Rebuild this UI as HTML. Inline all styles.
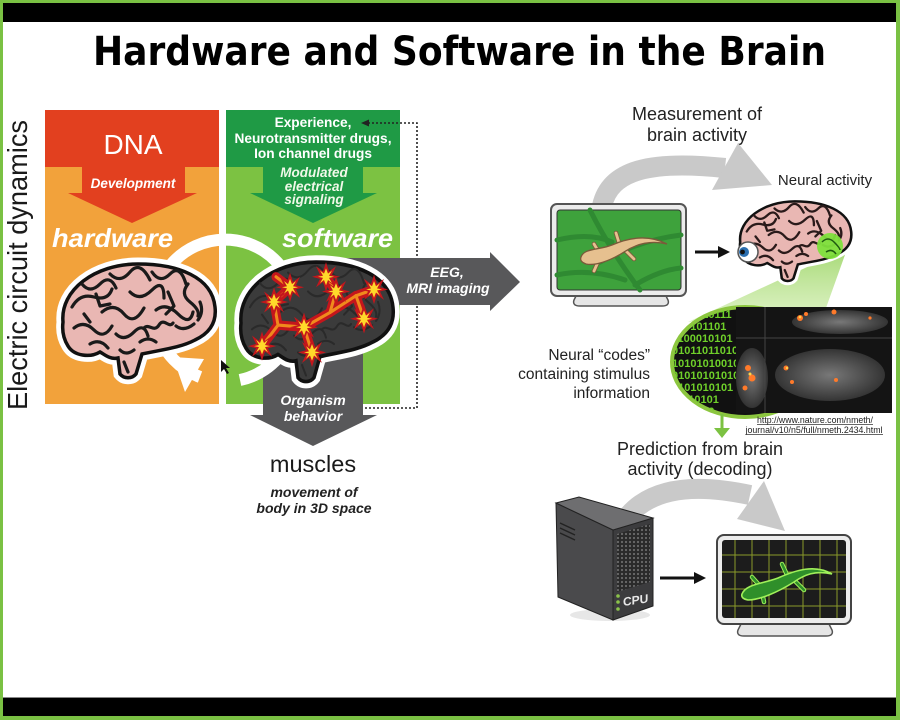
<!DOCTYPE html>
<html><head><meta charset="utf-8">
<style>
html,body{margin:0;padding:0;background:#fff;}
svg{display:block;}
</style></head>
<body>
<svg width="900" height="720" viewBox="0 0 900 720" xmlns="http://www.w3.org/2000/svg" xmlns:xlink="http://www.w3.org/1999/xlink" font-family="'Liberation Sans', sans-serif">
<defs>
  <path id="bs" d="M 3 60 C 0 28 35 2 78 2 C 118 2 152 15 155 45 C 157 62 148 72 135 78 C 120 86 100 88 82 92 L 76 112 C 72 117 64 117 60 112 L 58 96 C 50 98 44 92 40 90 C 30 96 14 94 8 84 C 3 76 2 68 3 60 Z"/>
  <g id="folds" fill="none" stroke-linecap="round" stroke-linejoin="round">
    <path d="M12 45 q8 -14 22 -10 t18 -8"/>
    <path d="M22 22 q8 10 18 0 t16 4"/>
    <path d="M50 12 q10 10 20 -2 t20 8"/>
    <path d="M92 10 q8 12 18 2 t16 10"/>
    <path d="M128 22 q-8 10 2 18 t8 14"/>
    <path d="M14 66 q10 -8 20 2 t18 -4"/>
    <path d="M42 50 q12 -10 22 2 t20 -6"/>
    <path d="M70 30 q10 10 22 -2 t12 8"/>
    <path d="M96 48 q10 -8 22 4 t15 -2"/>
    <path d="M30 82 q10 -6 18 4"/>
    <path d="M56 72 q8 8 18 -2 t14 4"/>
    <path d="M84 66 c5 -5 10 5 15 -3 s10 4 14 -2"/>
    <path d="M60 88 q6 6 14 0"/>
    <path d="M108 30 l6 14 l-8 8"/>
    <path d="M36 32 l4 12 l10 -2"/>
    <path d="M116 64 q8 6 18 -2"/>
    <path d="M140 40 q4 10 -2 18"/>
    <path d="M64 100 l4 10"/>
    <path d="M24 52 l6 8"/>
    <path d="M80 80 q8 -6 16 0"/>
  </g>
  <polygon id="star" points="0,-14 3,-5 10,-10 6,-2 14,0 6,2 10,10 3,5 0,14 -3,5 -10,10 -6,2 -14,0 -6,-2 -10,-10 -3,-5"/>
  <polygon id="star2" points="0,-8 2,-3 6,-6 3,-1 8,0 3,1 6,6 2,3 0,8 -2,3 -6,6 -3,1 -8,0 -3,-1 -6,-6 -2,-3"/>
  <pattern id="mesh" width="4" height="4" patternUnits="userSpaceOnUse">
    <rect width="4" height="4" fill="#2a2a2a"/>
    <circle cx="2" cy="2" r="1.1" fill="#6a6a6a"/>
  </pattern>
  <clipPath id="bubbleClip"><ellipse cx="745" cy="362" rx="72" ry="54"/></clipPath>
  <linearGradient id="cone" x1="0" y1="0" x2="0" y2="1">
    <stop offset="0" stop-color="#9fd66a" stop-opacity="0.9"/>
    <stop offset="1" stop-color="#c8eaa0" stop-opacity="0.6"/>
  </linearGradient>
  <radialGradient id="fish" cx="0.5" cy="0.5" r="0.5">
    <stop offset="0" stop-color="#8a8a8a"/>
    <stop offset="1" stop-color="#3a3a3a"/>
  </radialGradient>
</defs>

<!-- frame -->
<rect x="0" y="0" width="900" height="720" fill="#7ac143"/>
<rect x="3" y="3" width="893" height="713" fill="#fff"/>
<rect x="3" y="3" width="893" height="19" fill="#000"/>
<rect x="3" y="697" width="893" height="1" fill="#888"/>
<rect x="3" y="698" width="893" height="18" fill="#000"/>

<!-- title -->
<text x="93" y="65" font-family="'DejaVu Sans', sans-serif" font-weight="bold" font-size="40" textLength="733" lengthAdjust="spacingAndGlyphs" fill="#000">Hardware and Software in the Brain</text>

<!-- vertical label -->
<text transform="translate(27,410) rotate(-90)" font-size="28" fill="#1a1a1a" textLength="290" lengthAdjust="spacingAndGlyphs">Electric circuit dynamics</text>

<!-- orange panel -->
<rect x="45" y="110" width="174" height="294" fill="#f2a23b"/>
<rect x="45" y="110" width="174" height="57" fill="#e2401f"/>
<polygon points="82,166 185,166 185,193 197,193 132,223 68,193 82,193" fill="#e2401f"/>
<text x="133" y="154" font-size="28" fill="#fff" text-anchor="middle">DNA</text>
<text x="133" y="188" font-size="13.5" font-weight="bold" font-style="italic" fill="#fff" text-anchor="middle">Development</text>
<text x="52" y="247" font-size="26" font-weight="bold" font-style="italic" fill="#fff" textLength="121" lengthAdjust="spacingAndGlyphs">hardware</text>

<!-- green panel -->
<rect x="226" y="110" width="174" height="294" fill="#7cc242"/>
<rect x="226" y="110" width="174" height="57" fill="#1f9a45"/>
<polygon points="263,166 363,166 363,193 377,193 313,223 250,193 263,193" fill="#1f9a45"/>
<g font-size="13.7" font-weight="bold" fill="#fff" text-anchor="middle">
  <text x="313" y="127">Experience,</text>
  <text x="313" y="143" textLength="157" lengthAdjust="spacingAndGlyphs">Neurotransmitter drugs,</text>
  <text x="313" y="158">Ion channel drugs</text>
</g>
<g font-size="13.5" font-weight="bold" font-style="italic" fill="#f0f8e8" text-anchor="middle">
  <text x="314" y="177">Modulated</text>
  <text x="314" y="191">electrical</text>
  <text x="314" y="204">signaling</text>
</g>
<text x="282" y="247" font-size="26" font-weight="bold" font-style="italic" fill="#fff" textLength="111" lengthAdjust="spacingAndGlyphs">software</text>

<!-- dotted feedback line -->
<polyline points="368,123 417,123 417,408 350,408" fill="none" stroke="#222" stroke-width="1.6" stroke-dasharray="2,2"/>
<polygon points="361,123 369,119.5 369,126.5" fill="#222"/>

<!-- gray arrows -->
<polygon points="340,258 490,258 490,252 520,282 490,311 490,305 340,305" fill="#58585a"/>
<polygon points="263,330 363,330 363,415 377,415 313,446 250,415 263,415" fill="#58585a"/>

<!-- white ring -->
<path d="M 200 377 A 71 71 0 1 1 240 380" fill="none" stroke="#fff" stroke-width="12"/>
<polygon points="173,357 204,359 185,392" fill="#fff"/>

<!-- hardware brain -->
<g transform="translate(60,262)">
  <use xlink:href="#bs" fill="none" stroke="#fff" stroke-width="13"/>
  <use xlink:href="#bs" fill="#e9b7b3" stroke="#111" stroke-width="3.5"/>
  <use xlink:href="#folds" stroke="#1a1a1a" stroke-width="3.2"/>
</g>

<!-- software brain -->
<g transform="translate(238,260) scale(1,1.05)">
  <use xlink:href="#bs" fill="none" stroke="#fff" stroke-width="13"/>
  <use xlink:href="#bs" fill="#3b3b3b" stroke="#111" stroke-width="3.5"/>
  <use xlink:href="#folds" stroke="#2a2a2a" stroke-width="2"/>
  <g fill="none" stroke="#c4161c" stroke-width="9" stroke-linecap="round" stroke-linejoin="round">
    <path d="M24 82 L40 62 L36 40 L52 26"/>
    <path d="M40 62 L66 64 L92 50 L118 34"/>
    <path d="M92 50 L98 30 L88 16"/>
    <path d="M66 64 L74 88"/>
    <path d="M118 34 L136 28"/>
    <path d="M52 26 L38 16"/>
    <path d="M118 34 L126 56"/>
  </g>
  <g fill="none" stroke="#f08a1d" stroke-width="3" stroke-linecap="round" stroke-linejoin="round">
    <path d="M24 82 L40 62 L36 40 L52 26"/>
    <path d="M40 62 L66 64 L92 50 L118 34"/>
    <path d="M92 50 L98 30 L88 16"/>
    <path d="M66 64 L74 88"/>
    <path d="M118 34 L136 28"/>
    <path d="M52 26 L38 16"/>
    <path d="M118 34 L126 56"/>
  </g>
  <g fill="#c4161c">
    <use xlink:href="#star" x="36" y="40"/><use xlink:href="#star" x="52" y="26"/>
    <use xlink:href="#star" x="98" y="30"/><use xlink:href="#star" x="88" y="16"/>
    <use xlink:href="#star" x="136" y="28"/><use xlink:href="#star" x="24" y="82"/>
    <use xlink:href="#star" x="74" y="88"/><use xlink:href="#star" x="126" y="56"/>
    <use xlink:href="#star" x="66" y="64"/>
  </g>
  <g fill="#ffd92a">
    <use xlink:href="#star2" x="36" y="40"/><use xlink:href="#star2" x="52" y="26"/>
    <use xlink:href="#star2" x="98" y="30"/><use xlink:href="#star2" x="88" y="16"/>
    <use xlink:href="#star2" x="136" y="28"/><use xlink:href="#star2" x="24" y="82"/>
    <use xlink:href="#star2" x="74" y="88"/><use xlink:href="#star2" x="126" y="56"/>
    <use xlink:href="#star2" x="66" y="64"/>
  </g>
</g>

<!-- arrow labels -->
<g font-size="14" font-weight="bold" font-style="italic" fill="#fff" text-anchor="middle">
  <text x="447" y="277">EEG,</text>
  <text x="448" y="293">MRI imaging</text>
  <text x="313" y="405">Organism</text>
  <text x="313" y="421">behavior</text>
</g>

<!-- cursor -->
<polygon points="221,360 221,372 224,369 227,374 229,373 226,368 230,368" fill="#111"/>

<!-- muscles -->
<text x="313" y="472" font-size="23.5" fill="#1a1a1a" text-anchor="middle">muscles</text>
<g font-size="14" font-weight="bold" font-style="italic" fill="#222" text-anchor="middle">
  <text x="314" y="497">movement of</text>
  <text x="314" y="513">body in 3D space</text>
</g>

<!-- right top -->
<g font-size="18" fill="#222" text-anchor="middle">
  <text x="697" y="120">Measurement of</text>
  <text x="697" y="141">brain activity</text>
</g>
<path d="M 602 206 C 610 170, 650 160, 725 168" fill="none" stroke="#c9c9c9" stroke-width="20"/>
<polygon points="738,143 772,185 712,190" fill="#c9c9c9"/>
<text x="825" y="185" font-size="15" fill="#222" text-anchor="middle">Neural activity</text>

<!-- monitor 1 -->
<path d="M578 292 L664 292 L668 300 Q670 306 662 306 L580 306 Q572 306 574 300 Z" fill="#e6e6e6" stroke="#555" stroke-width="1.5"/>
<rect x="551" y="204" width="135" height="92" rx="6" fill="#ececec" stroke="#555" stroke-width="2"/>
<rect x="557" y="210" width="124" height="80" rx="3" fill="#3ea23c" stroke="#333" stroke-width="1"/>
<g fill="none" stroke="#2f8a32" stroke-width="5" stroke-linecap="round">
  <path d="M590 210 Q610 250 640 290"/>
  <path d="M557 240 Q590 232 612 242"/>
  <path d="M600 262 Q640 240 681 235"/>
  <path d="M557 275 Q590 268 625 280"/>
  <path d="M635 285 Q660 270 681 268"/>
</g>
<g stroke="#7a5a3a" stroke-width="4.5" stroke-linecap="round">
  <line x1="600" y1="254" x2="594" y2="244"/><line x1="598" y1="262" x2="594" y2="271"/>
  <line x1="620" y1="246" x2="616" y2="233"/><line x1="626" y1="251" x2="634" y2="259"/>
</g>
<g stroke="#e6c08f" stroke-width="2.8" stroke-linecap="round">
  <line x1="600" y1="254" x2="594" y2="244"/><line x1="598" y1="262" x2="594" y2="271"/>
  <line x1="620" y1="246" x2="616" y2="233"/><line x1="626" y1="251" x2="634" y2="259"/>
</g>
<path d="M581 257 C584 248, 600 250, 612 245 C628 238, 648 234, 667 244 C650 240, 636 244, 624 252 C610 261, 595 266, 586 264 C581 262, 580 260, 581 257 Z" fill="#e6c08f" stroke="#7a5a3a" stroke-width="1.3"/>

<!-- black arrow 1 -->
<line x1="695" y1="252" x2="720" y2="252" stroke="#111" stroke-width="3"/>
<polygon points="730,252 718,246 718,258" fill="#111"/>

<!-- cone -->
<polygon points="818,262 846,252 826,308 688,322" fill="url(#cone)"/>

<!-- small brain -->
<rect x="752" y="246" width="22" height="10" fill="#fff" stroke="#777" stroke-width="1"/>
<g transform="translate(738,200) scale(0.73,0.7)">
  <use xlink:href="#bs" fill="none" stroke="#fff" stroke-width="12"/>
  <use xlink:href="#bs" fill="#e9b7b3" stroke="#111" stroke-width="3.5"/>
  <use xlink:href="#folds" stroke="#2a1a1a" stroke-width="3.2"/>
</g>
<circle cx="830" cy="246" r="13" fill="#7ee03c" opacity="0.95"/>
<g fill="none" stroke="#1e5a10" stroke-width="1.5"><path d="M822 242 q6 -6 12 0 t6 8"/><path d="M826 252 q6 -4 10 2"/></g>
<circle cx="748" cy="252" r="10" fill="#fff" stroke="#555" stroke-width="1.5"/>
<circle cx="744" cy="252" r="5" fill="#2b6fb0"/>
<circle cx="742.5" cy="252" r="2.4" fill="#111"/>

<!-- binary bubble -->
<ellipse cx="745" cy="362" rx="73" ry="55" fill="#111" stroke="#8cc63f" stroke-width="4"/>
<g clip-path="url(#bubbleClip)" font-size="11" font-weight="bold" fill="#6fd02a">
  <text x="690" y="318">1010111</text>
  <text x="678" y="330">10101101</text>
  <text x="672" y="342">1100010101</text>
  <text x="672" y="354">01011011010</text>
  <text x="672" y="367">10101010010</text>
  <text x="672" y="379">01010101010</text>
  <text x="672" y="391">0101010101</text>
  <text x="676" y="403">1010101</text>
  <text x="690" y="415">0010</text>
</g>

<!-- zebrafish image -->
<rect x="736" y="307" width="156" height="106" fill="#141414"/>
<line x1="765" y1="307" x2="765" y2="413" stroke="#444" stroke-width="1"/>
<line x1="736" y1="338" x2="892" y2="338" stroke="#444" stroke-width="1"/>
<ellipse cx="840" cy="322" rx="48" ry="12" fill="url(#fish)" opacity="0.85"/>
<ellipse cx="830" cy="375" rx="55" ry="26" fill="url(#fish)" opacity="0.85"/>
<ellipse cx="752" cy="378" rx="16" ry="30" fill="url(#fish)" opacity="0.8"/>
<g fill="#ff7a2a">
  <circle cx="800" cy="318" r="3"/><circle cx="806" cy="314" r="2"/><circle cx="834" cy="312" r="2.5"/>
  <circle cx="748" cy="368" r="3"/><circle cx="752" cy="378" r="3.5"/><circle cx="745" cy="388" r="2.5"/>
  <circle cx="786" cy="368" r="2.5"/><circle cx="792" cy="382" r="2"/><circle cx="836" cy="380" r="2"/>
  <circle cx="870" cy="318" r="1.6"/>
</g>
<g fill="#ffd24a"><circle cx="750" cy="374" r="1.5"/><circle cx="800" cy="317" r="1.3"/><circle cx="787" cy="368" r="1.2"/></g>

<!-- link -->
<g font-size="9.5" fill="#222" text-anchor="middle">
  <text x="815" y="423" textLength="116" lengthAdjust="spacingAndGlyphs">http://www.nature.com/nmeth/</text>
  <text x="814" y="433" textLength="137" lengthAdjust="spacingAndGlyphs">journal/v10/n5/full/nmeth.2434.html</text>
</g>
<line x1="757" y1="424.5" x2="873" y2="424.5" stroke="#333" stroke-width="0.8"/>
<line x1="746" y1="434.5" x2="883" y2="434.5" stroke="#333" stroke-width="0.8"/>

<!-- green small arrow -->
<line x1="722" y1="414" x2="722" y2="430" stroke="#7cc242" stroke-width="3"/>
<polygon points="714,428 730,428 722,438" fill="#7cc242"/>

<!-- neural codes text -->
<g font-size="15.5" fill="#222" text-anchor="end">
  <text x="650" y="360">Neural “codes”</text>
  <text x="650" y="379">containing stimulus</text>
  <text x="650" y="398">information</text>
</g>

<!-- prediction -->
<g font-size="18" fill="#222" text-anchor="middle">
  <text x="700" y="455">Prediction from brain</text>
  <text x="700" y="475">activity (decoding)</text>
</g>
<path d="M 628 516 C 650 490, 690 482, 750 495" fill="none" stroke="#c9c9c9" stroke-width="20"/>
<polygon points="764,481 785,531 737,519" fill="#c9c9c9"/>

<!-- CPU -->
<ellipse cx="610" cy="615" rx="40" ry="6" fill="#ddd" opacity="0.7"/>
<polygon points="556,503 613,530 613,620 558,597" fill="#4a4a4c" stroke="#222" stroke-width="1"/>
<polygon points="613,530 653,518 653,606 613,620" fill="#3c3c3e" stroke="#222" stroke-width="1"/>
<polygon points="556,503 579,497 653,518 613,530" fill="#6e6e70" stroke="#222" stroke-width="1"/>
<polygon points="617,534 650,524 650,582 617,592" fill="url(#mesh)"/>
<g stroke="#222" stroke-width="1.5"><line x1="560" y1="523" x2="575" y2="530"/><line x1="560" y1="528" x2="575" y2="535"/><line x1="560" y1="533" x2="575" y2="540"/></g>
<g fill="#8bc34a"><circle cx="618" cy="596" r="1.8"/><circle cx="618" cy="602" r="1.8"/><circle cx="618" cy="609" r="1.8"/></g>
<text x="623" y="606" font-size="12" font-weight="bold" fill="#e8e8e8" transform="skewY(-8)" transform-origin="623 606">CPU</text>

<!-- black arrow 2 -->
<line x1="660" y1="578" x2="696" y2="578" stroke="#111" stroke-width="3"/>
<polygon points="706,578 694,572 694,584" fill="#111"/>

<!-- monitor 2 -->
<path d="M742 622 L828 622 L832 630 Q834 636 826 636 L744 636 Q736 636 738 630 Z" fill="#e6e6e6" stroke="#555" stroke-width="1.5"/>
<rect x="717" y="535" width="134" height="89" rx="7" fill="#ececec" stroke="#444" stroke-width="2"/>
<rect x="722" y="540" width="124" height="78" rx="3" fill="#1c1c1c"/>
<g stroke="#8a9a2a" stroke-width="1">
  <line x1="735" y1="540" x2="735" y2="618"/><line x1="752" y1="540" x2="752" y2="618"/>
  <line x1="769" y1="540" x2="769" y2="618"/><line x1="786" y1="540" x2="786" y2="618"/>
  <line x1="803" y1="540" x2="803" y2="618"/><line x1="820" y1="540" x2="820" y2="618"/>
  <line x1="837" y1="540" x2="837" y2="618"/>
  <line x1="722" y1="555" x2="846" y2="555"/><line x1="722" y1="572" x2="846" y2="572"/>
  <line x1="722" y1="589" x2="846" y2="589"/><line x1="722" y1="606" x2="846" y2="606"/>
</g>
<g stroke="#a0f05a" stroke-width="4.5" stroke-linecap="round">
  <line x1="760" y1="586" x2="752" y2="577"/><line x1="762" y1="592" x2="764" y2="602"/>
  <line x1="788" y1="577" x2="782" y2="564"/><line x1="794" y1="580" x2="804" y2="590"/>
</g>
<g stroke="#2f8f2a" stroke-width="2.6" stroke-linecap="round">
  <line x1="760" y1="586" x2="752" y2="577"/><line x1="762" y1="592" x2="764" y2="602"/>
  <line x1="788" y1="577" x2="782" y2="564"/><line x1="794" y1="580" x2="804" y2="590"/>
</g>
<path d="M742 594 C746 584, 762 584, 778 578 C796 570, 815 564, 832 574 C815 570, 804 575, 794 582 C778 592, 760 600, 748 600 C743 599, 741 597, 742 594 Z" fill="#2f8f2a" stroke="#a0f05a" stroke-width="1.6"/>
</svg>
</body></html>
